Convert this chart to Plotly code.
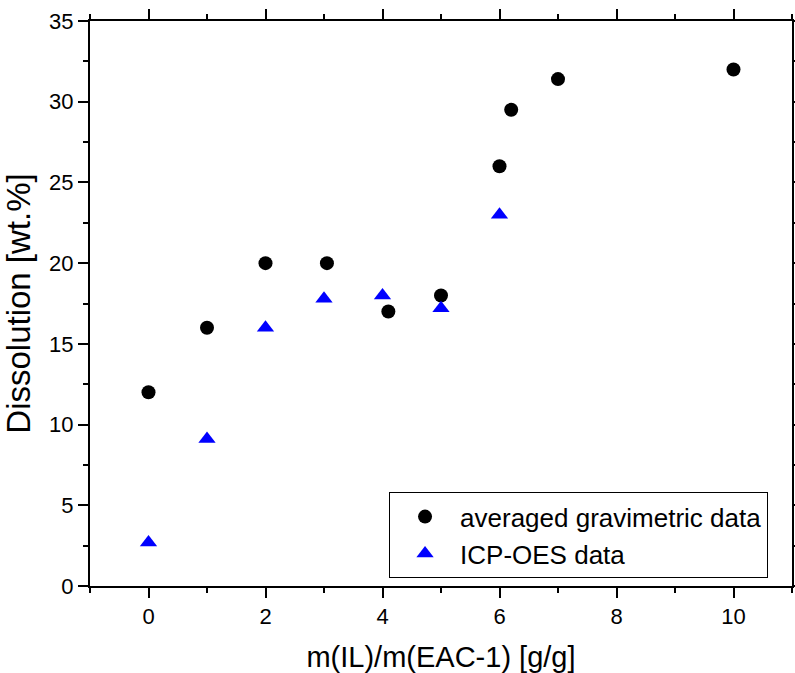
import plotly.graph_objects as go

grav_x = [0, 1, 2, 3.05, 4.1, 5, 6, 6.2, 7, 10]
grav_y = [12, 16, 20, 20, 17, 18, 26, 29.5, 31.4, 32]
icp_x = [0, 1, 2, 3, 4, 5, 6]
icp_y = [2.7, 9.1, 16.0, 17.8, 18.0, 17.2, 23.0]

FONT = "Liberation Sans, Arial, sans-serif"

fig = go.Figure()
fig.add_trace(go.Scatter(x=grav_x, y=grav_y, mode="markers", name="averaged gravimetric data",
                         marker=dict(symbol="circle", size=14, color="black")))
fig.add_trace(go.Scatter(x=icp_x, y=icp_y, mode="markers", name="ICP-OES data",
                         marker=dict(symbol="triangle-up", size=15, color="#0000FF")))

axis_common = dict(showline=True, linecolor="black", linewidth=2, mirror="allticks",
                   ticks="outside", ticklen=10, tickwidth=2, tickcolor="black",
                   showgrid=False, zeroline=False, automargin=False,
                   tickfont=dict(family=FONT, size=22, color="black"))

fig.update_xaxes(range=[-1, 11], tick0=0, dtick=2,
                 minor=dict(ticks="outside", ticklen=5, tickwidth=2, tickcolor="black", dtick=1, tick0=0, showgrid=False),
                 title=dict(text="m(IL)/m(EAC-1) [g/g]", font=dict(family=FONT, size=29, color="black"), standoff=20),
                 **axis_common)
fig.update_yaxes(range=[0, 35], tick0=0, dtick=5,
                 minor=dict(ticks="outside", ticklen=5, tickwidth=2, tickcolor="black", dtick=2.5, tick0=0, showgrid=False),
                 title=dict(text="Dissolution [wt.%]", font=dict(family=FONT, size=33, color="black"), standoff=12),
                 **axis_common)

fig.update_layout(
    width=795, height=673,
    margin=dict(l=90, r=3, t=21, b=87),
    plot_bgcolor="white", paper_bgcolor="white",
    legend=dict(x=0.426, y=0.166, xanchor="left", yanchor="top",
                bordercolor="black", borderwidth=1, bgcolor="white",
                font=dict(family=FONT, size=26, color="black"),
                itemsizing="trace", itemwidth=60, tracegroupgap=0),
    showlegend=True,
)

fig.write_html("out.html")
